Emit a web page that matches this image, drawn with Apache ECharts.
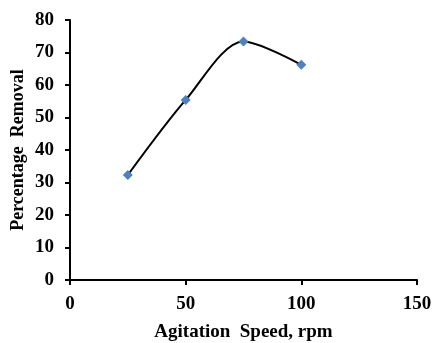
<!DOCTYPE html>
<html><head><meta charset="utf-8">
<script src="https://cdn.jsdelivr.net/npm/echarts@6/dist/echarts.min.js"></script>
<style>html,body{margin:0;padding:0;background:#fff}#c{width:432px;height:343px}</style>
</head><body><div id="c"></div>
<script>
var speeds = [25, 50, 75, 100];
var removal = [32.3, 55.4, 73.4, 66.2];
var xTitle = 'Agitation  Speed, rpm';
var yTitle = 'Percentage  Removal';
var font = '"Liberation Serif","Times New Roman",serif';
var chart = echarts.init(document.getElementById('c'), null, {renderer: 'canvas'});
chart.setOption({
  animation: false,
  grid: {left: 70, right: 15, top: 20, bottom: 63, containLabel: false, outerBoundsMode: 'none'},
  xAxis: {
    type: 'value', min: 0, max: 150, interval: 50,
    name: xTitle, nameLocation: 'middle', nameGap: 43,
    nameTextStyle: {fontFamily: font, fontWeight: 'bold', fontSize: 19, color: '#000'},
    axisLine: {lineStyle: {color: '#000', width: 2}},
    axisTick: {show: true, length: 5, lineStyle: {color: '#000', width: 2}},
    axisLabel: {fontFamily: font, fontWeight: 'bold', fontSize: 19, color: '#000', margin: 15},
    splitLine: {show: false}
  },
  yAxis: {
    type: 'value', min: 0, max: 80, interval: 10,
    name: yTitle, nameLocation: 'middle', nameGap: 43, nameMoveOverlap: false,
    nameTextStyle: {fontFamily: font, fontWeight: 'bold', fontSize: 18, color: '#000'},
    axisLine: {show: true, lineStyle: {color: '#000', width: 2}},
    axisTick: {show: true, length: 5, lineStyle: {color: '#000', width: 2}},
    axisLabel: {fontFamily: font, fontWeight: 'bold', fontSize: 19, color: '#000', margin: 16},
    splitLine: {show: false}
  },
  series: [{
    type: 'line',
    data: speeds.map(function (s, i) { return [s, removal[i]]; }),
    smooth: 0.3,
    symbol: 'diamond', symbolSize: 10,
    itemStyle: {color: '#4f81bd'},
    lineStyle: {color: '#000', width: 2}
  }]
});
</script></body></html>
